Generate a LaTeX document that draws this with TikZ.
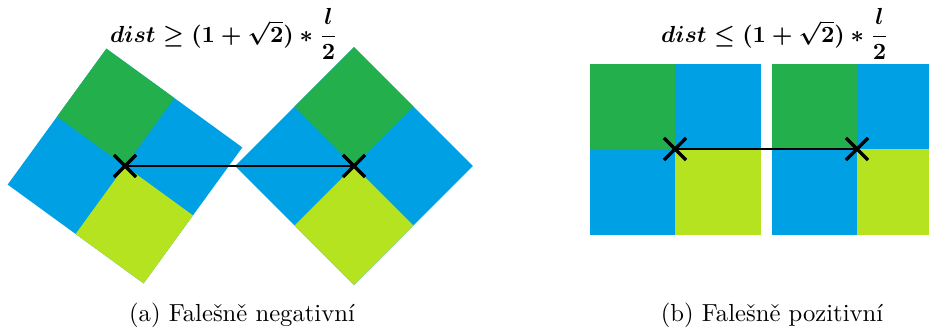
\documentclass[tikz,border=0pt]{standalone}
\usepackage{amsmath}
\usepackage{amssymb}
\usepackage{tikz}
\usetikzlibrary{shapes.misc}
\usepackage{xcolor}
\definecolor{quadgreen}{RGB}{35,175,76}
\definecolor{quadblue}{RGB}{0,161,228}
\definecolor{quadlime}{RGB}{181,227,31}
\newcommand{\quadsquare}[1]{%
\fill[quadblue] (-#1,-#1) rectangle (#1,#1);
\fill[quadgreen] (-#1,-#1) rectangle (0,0);
\fill[quadlime] (0,0) rectangle (#1,#1);
}
\newcommand{\distrel}[1]{$dist #1 (1+\sqrt{2})\ast\dfrac{l}{2}$}
\begin{document}
\begin{tikzpicture}[
x=0.43pt, y=-0.43pt,
every node/.style={inner sep=0, outer sep=0},
crossmark/.style={cross out, draw=black, line width=1.4pt, minimum size=9.5pt},
formulanode/.style={anchor=base, font=\fontsize{10}{12}\selectfont\boldmath},
captionnode/.style={anchor=base, font=\fontsize{10.6}{12}\selectfont},
link/.style={draw=black, line width=0.9pt}
]
\useasboundingbox (0,0) rectangle (929,330);
\clip (0,0) rectangle (929,330);
\coordinate (a1) at (125,166);
\coordinate (a2) at (354,166);
\coordinate (b1) at (675,149);
\coordinate (b2) at (857,149);
\begin{scope}[shift={(a1)}, rotate=-36]
\quadsquare{84}
\end{scope}
\begin{scope}[shift={(a2)}, rotate=-45]
\quadsquare{84}
\end{scope}
\begin{scope}[shift={(b1)}]
\quadsquare{85.5}
\end{scope}
\begin{scope}[shift={(b2)}]
\quadsquare{85.5}
\end{scope}
\node[crossmark] (xa1) at (a1) {};
\node[crossmark] (xa2) at (a2) {};
\node[crossmark] (xb1) at (b1) {};
\node[crossmark] (xb2) at (b2) {};
\draw[link] (xa1.center) -- (xa2.center);
\draw[link] (xb1.center) -- (xb2.center);
\node[formulanode] (forma) at (224,42) {\distrel{\geq}};
\node[formulanode] (formb) at (775,42) {\distrel{\leq}};
\node[captionnode] (capa) at (242,321) {(a) Falešně negativní};
\node[captionnode] (capb) at (772,321) {(b) Falešně pozitivní};
\end{tikzpicture}
\end{document}
